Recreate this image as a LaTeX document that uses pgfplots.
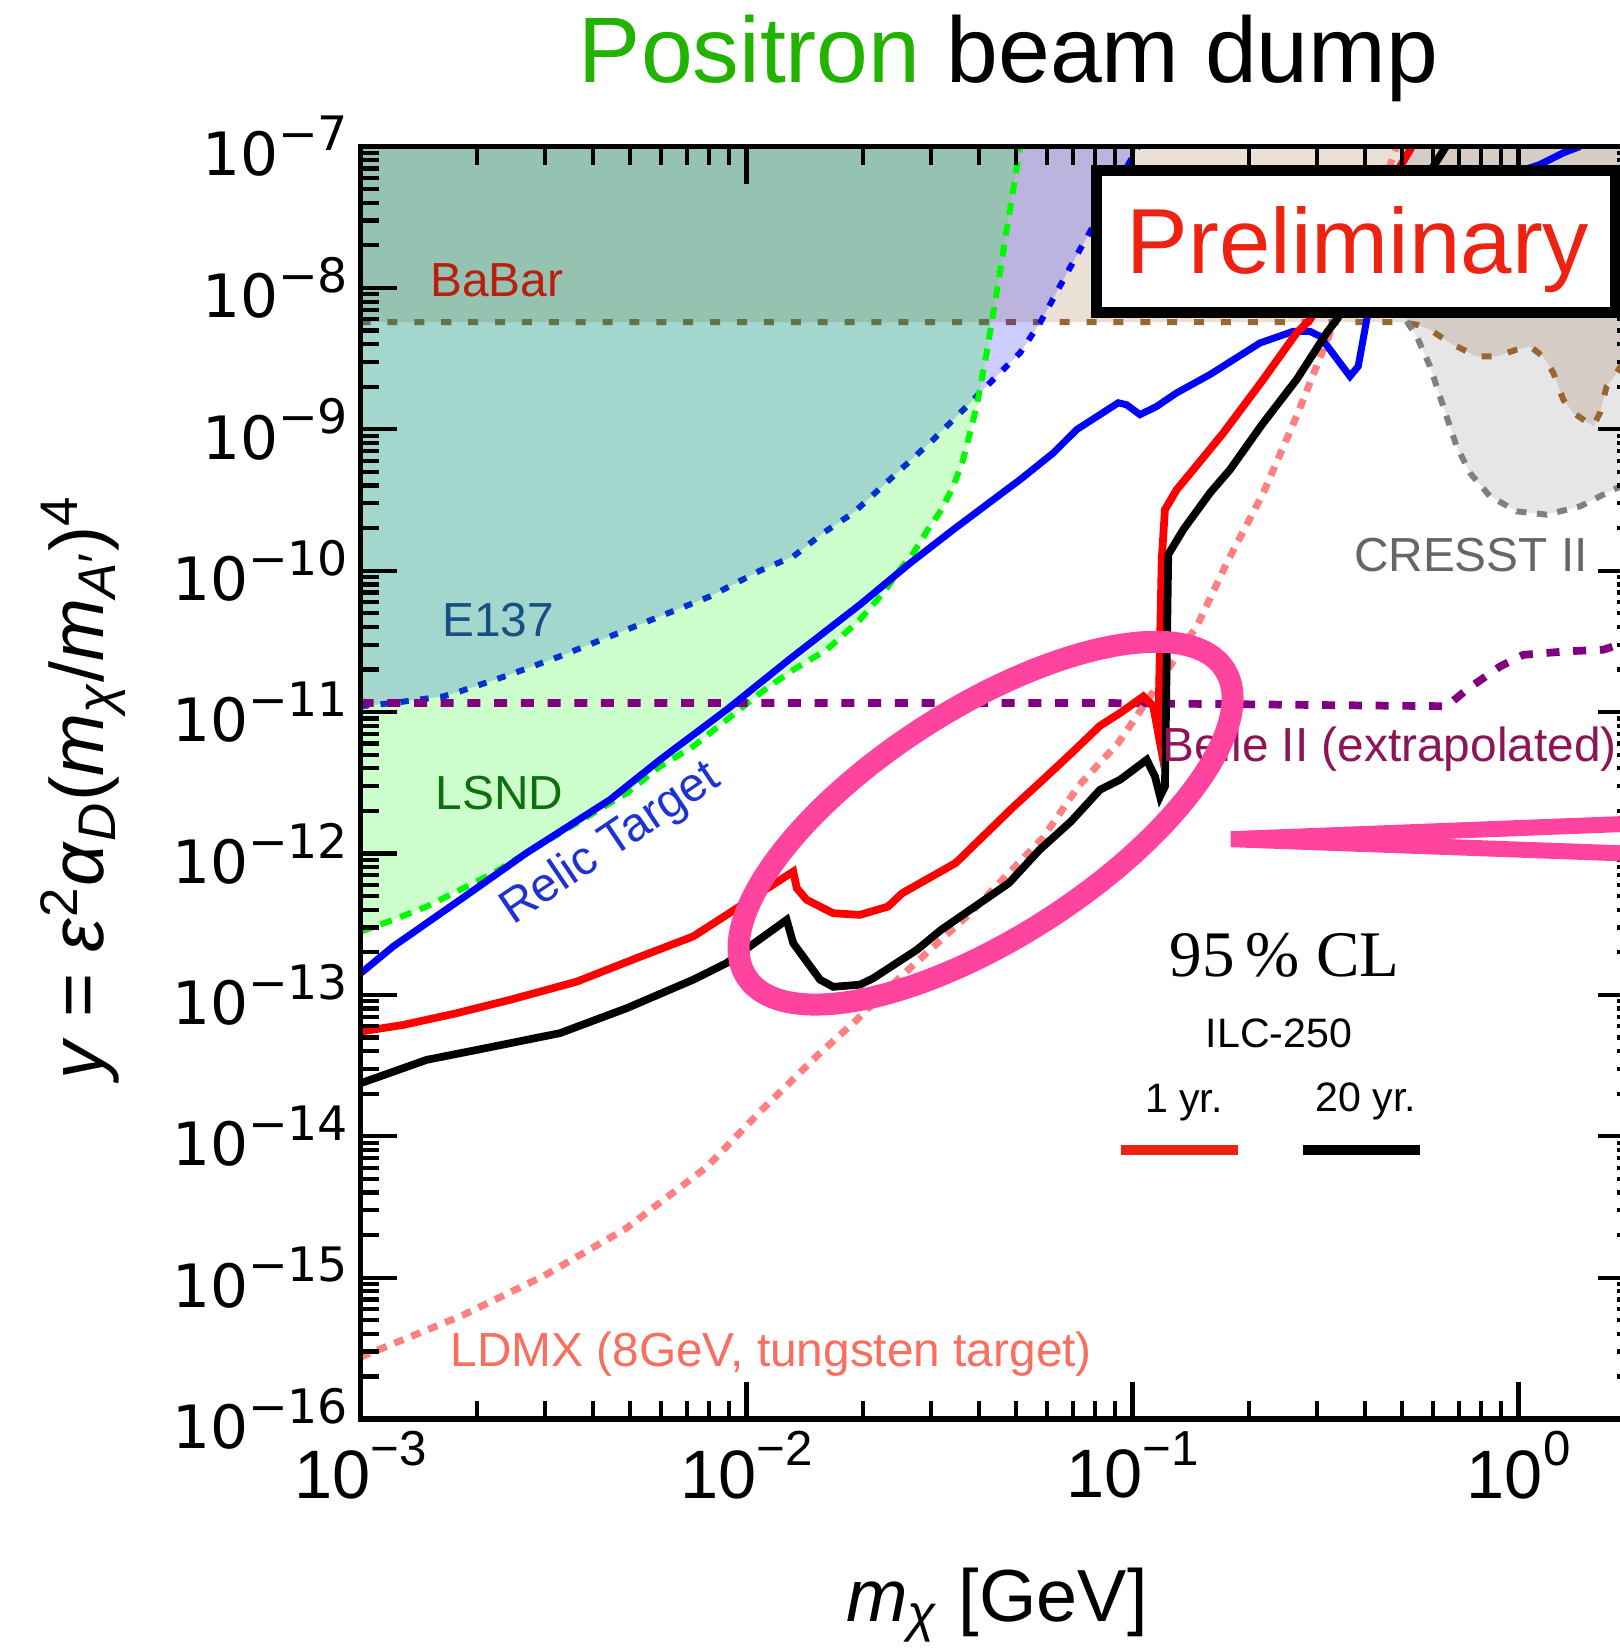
\documentclass[border=0pt]{standalone}
\usepackage{fontspec}
\setmainfont{Liberation Sans}
\newfontfamily\serifcl{Liberation Serif}
\newfontfamily\tickfont{DejaVu Sans}
\usepackage{pgfplots}
\pgfplotsset{compat=1.18}

\definecolor{babarbrown}{RGB}{153,102,51}
\definecolor{lsndgreen}{RGB}{0,250,0}
\definecolor{crgray}{RGB}{128,128,128}
\definecolor{bellepurple}{RGB}{128,0,128}
\definecolor{ldmxpink}{RGB}{255,128,128}
\definecolor{pinkc}{RGB}{255,68,160}
\definecolor{legred}{RGB}{238,34,17}
\definecolor{titlegreen}{RGB}{34,178,0}
\definecolor{babartxt}{RGB}{185,30,15}
\definecolor{e137txt}{RGB}{20,80,130}
\definecolor{lsndtxt}{RGB}{15,110,15}
\definecolor{relictxt}{RGB}{30,50,210}
\definecolor{cressttxt}{RGB}{102,102,102}
\definecolor{belletxt}{RGB}{140,20,87}
\definecolor{ldmxtxt}{RGB}{248,110,95}

% tick labels 10^n with a larger, raised exponent
\newcommand{\ytl}[1]{10\raisebox{0.42em}{\fontsize{13.5}{13.5}\selectfont #1}}
\newcommand{\xtl}[1]{10\raisebox{0.47em}{\fontsize{14}{14}\selectfont #1}}

\begin{document}
\begin{tikzpicture}
\begin{axis}[
  at={(0,0)}, anchor=south west,
  scale only axis, width=12.742cm, height=12.725cm,
  xmode=log, ymode=log,
  xmin=1e-3, xmax=2, ymin=1e-16, ymax=1e-7,
  xtick={1e-3,1e-2,1e-1,1},
  xticklabels={\xtl{−3},\xtl{−2},\xtl{−1},\xtl{0}},
  ytick={1e-16,1e-15,1e-14,1e-13,1e-12,1e-11,1e-10,1e-9,1e-8,1e-7},
  yticklabels={\ytl{−16},\ytl{−15},\ytl{−14},\ytl{−13},\ytl{−12},\ytl{−11},\ytl{−10},\ytl{−9},\ytl{−8},\ytl{−7}},
  minor xtick={0.002,0.003,0.004,0.005,0.006,0.007,0.008,0.009,0.02,0.03,0.04,0.05,0.06,0.07,0.08,0.09,0.2,0.3,0.4,0.5,0.6,0.7,0.8,0.9},
  minor ytick={2e-16,3e-16,4e-16,5e-16,6e-16,7e-16,8e-16,9e-16,
    2e-15,3e-15,4e-15,5e-15,6e-15,7e-15,8e-15,9e-15,
    2e-14,3e-14,4e-14,5e-14,6e-14,7e-14,8e-14,9e-14,
    2e-13,3e-13,4e-13,5e-13,6e-13,7e-13,8e-13,9e-13,
    2e-12,3e-12,4e-12,5e-12,6e-12,7e-12,8e-12,9e-12,
    2e-11,3e-11,4e-11,5e-11,6e-11,7e-11,8e-11,9e-11,
    2e-10,3e-10,4e-10,5e-10,6e-10,7e-10,8e-10,9e-10,
    2e-9,3e-9,4e-9,5e-9,6e-9,7e-9,8e-9,9e-9,
    2e-8,3e-8,4e-8,5e-8,6e-8,7e-8,8e-8,9e-8},
  tick align=inside, tick pos=both,
  major tick length=0.37cm, minor tick length=0.18cm,
  every tick/.style={black, line width=1.2pt},
  axis line style={line width=1.5pt},
  axis on top,
  xticklabel style={font=\fontsize{19.5}{22}\selectfont},
  yticklabel style={font=\tickfont\fontsize{17}{20}\selectfont},
]
% BaBar
\addplot[draw=none, fill=babarbrown, fill opacity=0.2] coordinates {
  (1e-3,5.73e-9) (0.4928,5.73e-9) (0.5445,5.50e-9) (0.5896,5.07e-9) (0.6642,4.08e-9)
  (0.7786,3.28e-9) (0.8775,3.28e-9) (0.9887,3.66e-9) (1.070,3.86e-9) (1.157,3.28e-9)
  (1.230,2.51e-9) (1.306,1.62e-9) (1.386,1.31e-9) (1.471,1.17e-9) (1.562,1.05e-9)
  (1.625,1.31e-9) (1.691,2.01e-9) (1.795,2.51e-9) (1.853,2.87e-9) (2,3.0e-9)
  (2,1e-7) (1e-3,1e-7)} -- cycle;
% CRESST II
\addplot[draw=none, fill=crgray, fill opacity=0.2] coordinates {
  (0.5077,1e-7) (0.513,5.80e-9) (0.5445,4.55e-9) (0.5896,2.79e-9) (0.6381,1.45e-9)
  (0.6911,7.58e-10) (0.7484,4.91e-10) (0.8431,3.36e-10) (0.9887,2.63e-10) (1.183,2.49e-10)
  (1.443,2.85e-10) (1.691,3.55e-10) (1.853,3.99e-10) (2,4.4e-10) (2,1e-7)} -- cycle;
\addplot[babarbrown, line width=1.7pt, dash pattern=on 2.85pt off 4.8pt] coordinates {
  (1e-3,5.73e-9) (0.4928,5.73e-9) (0.5445,5.50e-9) (0.5896,5.07e-9) (0.6642,4.08e-9)
  (0.7786,3.28e-9) (0.8775,3.28e-9) (0.9887,3.66e-9) (1.070,3.86e-9) (1.157,3.28e-9)
  (1.230,2.51e-9) (1.306,1.62e-9) (1.386,1.31e-9) (1.471,1.17e-9) (1.562,1.05e-9)
  (1.625,1.31e-9) (1.691,2.01e-9) (1.795,2.51e-9) (1.853,2.87e-9) (2,3.0e-9)};
\addplot[crgray, line width=1.7pt, dash pattern=on 2.85pt off 3pt] coordinates {
  (0.513,5.80e-9) (0.5445,4.55e-9) (0.5896,2.79e-9) (0.6381,1.45e-9)
  (0.6911,7.58e-10) (0.7484,4.91e-10) (0.8431,3.36e-10) (0.9887,2.63e-10) (1.183,2.49e-10)
  (1.443,2.85e-10) (1.691,3.55e-10) (1.853,3.99e-10) (2,4.4e-10)};
% E137
\addplot[draw=none, fill=blue, fill opacity=0.2] coordinates {
  (1e-3,1.10e-11) (1.215e-3,1.16e-11) (1.637e-3,1.29e-11) (1.81e-3,1.40e-11) (2.438e-3,1.84e-11)
  (3.285e-3,2.48e-11) (4.427e-3,3.43e-11) (5.967e-3,4.75e-11) (8.04e-3,6.58e-11) (1.083e-2,1.0e-10)
  (1.321e-2,1.26e-10) (1.58e-2,1.85e-10) (1.89e-2,2.56e-10) (2.399e-2,4.65e-10) (3.045e-2,8.45e-10)
  (3.716e-2,1.45e-9) (4.356e-2,2.25e-9) (5.109e-2,3.47e-9) (5.757e-2,5.66e-9) (6.485e-2,1.03e-8)
  (7.308e-2,1.87e-8) (0.1035,1e-7) (1e-3,1e-7)} -- cycle;
\addplot[blue, line width=1.7pt, dash pattern=on 2.4pt off 3.3pt] coordinates {
  (1e-3,1.10e-11) (1.215e-3,1.16e-11) (1.637e-3,1.29e-11) (1.81e-3,1.40e-11) (2.438e-3,1.84e-11)
  (3.285e-3,2.48e-11) (4.427e-3,3.43e-11) (5.967e-3,4.75e-11) (8.04e-3,6.58e-11) (1.083e-2,1.0e-10)
  (1.321e-2,1.26e-10) (1.58e-2,1.85e-10) (1.89e-2,2.56e-10) (2.399e-2,4.65e-10) (3.045e-2,8.45e-10)
  (3.716e-2,1.45e-9) (4.356e-2,2.25e-9) (5.109e-2,3.47e-9) (5.757e-2,5.66e-9) (6.485e-2,1.03e-8)
  (7.308e-2,1.87e-8) (0.1035,1e-7)};
% LSND
\addplot[draw=none, fill=green, fill opacity=0.2] coordinates {
  (1e-3,2.80e-13) (1.215e-3,3.39e-13) (1.483e-3,4.21e-13) (1.81e-3,5.53e-13) (2.207e-3,7.26e-13)
  (2.694e-3,1.01e-12) (3.285e-3,1.39e-12) (4.007e-3,1.93e-12) (4.892e-3,2.67e-12) (5.967e-3,4.12e-12)
  (7.274e-3,5.71e-12) (8.882e-3,8.82e-12) (1.083e-2,1.36e-11) (1.321e-2,1.99e-11) (1.613e-2,2.76e-11)
  (1.967e-2,4.50e-11) (2.26e-2,6.95e-11) (2.497e-2,1.02e-10) (2.704e-2,1.33e-10) (2.986e-2,2.06e-10)
  (3.201e-2,2.70e-10) (3.431e-2,3.95e-10) (3.641e-2,6.10e-10) (3.79e-2,9.42e-10) (3.945e-2,1.45e-9)
  (4.188e-2,3.47e-9) (4.356e-2,6.66e-9) (4.534e-2,1.28e-8) (4.719e-2,2.59e-8) (4.909e-2,4.96e-8)
  (5.109e-2,1e-7) (1e-3,1e-7)} -- cycle;
\addplot[lsndgreen, line width=1.7pt, dash pattern=on 3.4pt off 2.6pt] coordinates {
  (1e-3,2.80e-13) (1.215e-3,3.39e-13) (1.483e-3,4.21e-13) (1.81e-3,5.53e-13) (2.207e-3,7.26e-13)
  (2.694e-3,1.01e-12) (3.285e-3,1.39e-12) (4.007e-3,1.93e-12) (4.892e-3,2.67e-12) (5.967e-3,4.12e-12)
  (7.274e-3,5.71e-12) (8.882e-3,8.82e-12) (1.083e-2,1.36e-11) (1.321e-2,1.99e-11) (1.613e-2,2.76e-11)
  (1.967e-2,4.50e-11) (2.26e-2,6.95e-11) (2.497e-2,1.02e-10) (2.704e-2,1.33e-10) (2.986e-2,2.06e-10)
  (3.201e-2,2.70e-10) (3.431e-2,3.95e-10) (3.641e-2,6.10e-10) (3.79e-2,9.42e-10) (3.945e-2,1.45e-9)
  (4.188e-2,3.47e-9) (4.356e-2,6.66e-9) (4.534e-2,1.28e-8) (4.719e-2,2.59e-8) (4.909e-2,4.96e-8)
  (5.109e-2,1e-7)};
% Belle II (extrapolated)
\addplot[bellepurple, line width=2.2pt, dash pattern=on 3.7pt off 3.9pt] coordinates {
  (1e-3,1.16e-11) (8.232e-2,1.16e-11) (0.6512,1.10e-11) (0.7338,1.44e-11) (0.895,2.10e-11)
  (1.028,2.54e-11) (1.333,2.69e-11) (1.657,2.76e-11) (1.759,2.91e-11) (2,3.4e-11)};
% LDMX
\addplot[ldmxpink, line width=2pt, dash pattern=on 2.8pt off 2.4pt] coordinates {
  (1e-3,2.74e-16) (1.835e-3,5.40e-16) (2.987e-3,1.03e-15) (4.862e-3,2.22e-15) (7.896e-3,6.07e-15)
  (1.083e-2,1.49e-14) (1.531e-2,3.76e-14) (1.929e-2,6.65e-14) (2.459e-2,1.28e-13) (3.795e-2,3.78e-13)
  (5.858e-2,1.29e-12) (7.264e-2,3.03e-12) (9.198e-2,6.08e-12) (0.1112,1.30e-11) (0.1474,4.15e-11)
  (0.1753,1.13e-10) (0.2181,3.55e-10) (0.2661,1.24e-9) (0.3247,4.81e-9) (0.4736,8.54e-8)
  (0.4828,1e-7)};
% Relic target
\addplot[blue, line width=2pt] coordinates {
  (1e-3,1.42e-13) (1.215e-3,2.20e-13) (1.81e-3,4.70e-13) (2.694e-3,1.01e-12) (4.427e-3,2.40e-12)
  (5.967e-3,4.60e-12) (8.882e-3,1.04e-11) (1.321e-2,2.48e-11) (1.967e-2,5.75e-11) (2.651e-2,1.13e-10)
  (3.431e-2,1.95e-10) (4.356e-2,3.18e-10) (5.109e-2,4.40e-10) (6.231e-2,6.80e-10) (7.165e-2,9.95e-10)
  (9.183e-2,1.54e-9) (9.654e-2,1.49e-9) (0.1045,1.27e-9) (0.1154,1.45e-9) (0.1301,1.81e-9)
  (0.1587,2.44e-9) (0.2138,4.08e-9) (0.2608,4.93e-9) (0.2881,4.93e-9) (0.3058,4.55e-9)
  (0.3247,3.66e-9) (0.3658,2.37e-9) (0.3843,2.79e-9) (0.4042,5.97e-9) (0.4374,1.59e-8)
  (0.5553,3.30e-8) (0.7943,5.38e-8) (1.136,7.46e-8) (1.306,9.03e-8) (1.443,1e-7)};
% ILC-250, 1 yr
\addplot[red, line width=2.2pt] coordinates {
  (1e-3,5.50e-14) (1.29e-3,6.13e-14) (1.774e-3,7.42e-14) (2.438e-3,9.22e-14) (3.63e-3,1.24e-13)
  (5.192e-3,1.82e-13) (7.274e-3,2.59e-13) (8.882e-3,3.68e-13) (1.083e-2,5.24e-13) (1.321e-2,7.45e-13)
  (1.349e-2,5.69e-13) (1.431e-2,4.70e-13) (1.677e-2,3.78e-13) (1.967e-2,3.68e-13) (2.324e-2,4.21e-13)
  (2.532e-2,5.24e-13) (3.479e-2,8.55e-13) (4.924e-2,2.15e-12) (5.858e-2,3.32e-12) (6.933e-2,5.10e-12)
  (8.232e-2,8.00e-12) (9.277e-2,9.84e-12) (0.1066,1.29e-11) (0.1131,1.10e-11) (0.1165,7.11e-12)
  (0.1190,1.20e-10) (0.1213,2.70e-10) (0.1301,3.74e-10) (0.1436,5.18e-10) (0.1718,9.42e-10)
  (0.2151,2.14e-9) (0.2661,4.81e-9) (0.2881,5.97e-9) (0.5294,1e-7)};
% ILC-250, 20 yr
\addplot[black, line width=2.2pt] coordinates {
  (1e-3,2.37e-14) (1.483e-3,3.47e-14) (2.0e-3,4.08e-14) (3.285e-3,5.36e-14) (4.892e-3,8.05e-14)
  (7.274e-3,1.28e-13) (8.882e-3,1.68e-13) (1.27e-2,3.39e-13) (1.321e-2,2.32e-13) (1.55e-2,1.28e-13)
  (1.677e-2,1.14e-13) (1.967e-2,1.18e-13) (2.128e-2,1.31e-13) (2.76e-2,2.08e-13) (3.19e-2,2.88e-13)
  (4.781e-2,6.17e-13) (5.74e-2,1.06e-12) (6.933e-2,1.69e-12) (8.232e-2,2.82e-12) (9.277e-2,3.32e-12)
  (0.1088,4.60e-12) (0.1143,3.50e-12) (0.1178,2.53e-12) (0.1213,2.98e-12) (0.1237,1.30e-10)
  (0.1353,1.95e-10) (0.1587,3.55e-10) (0.1788,5.18e-10) (0.2164,1.08e-9) (0.2661,2.25e-9)
  (0.3184,4.81e-9) (0.3379,5.97e-9) (0.6484,1e-7)};
\end{axis}

% title and axis labels
\node[anchor=base, font=\fontsize{26.5}{30}\selectfont] at (6.48,13.363)
  {\textcolor{titlegreen}{Positron} beam dump};
\node[anchor=base, font=\fontsize{21}{24}\selectfont] at (6.364,-2.02)
  {\textit{m}\textsubscript{\textit{χ}} [GeV]};
\node[rotate=90, anchor=center, font=\fontsize{21.5}{24}\selectfont] at (-2.776,6.315)
  {\textit{y} = \textit{ε}\textsuperscript{2}\textit{α}\textsubscript{\textit{D}}(\textit{m}\textsubscript{\textit{χ}}/\textit{m}\textsubscript{\textit{A}′})\textsuperscript{4}};

% region labels
\begin{scope}[every node/.style={font=\fontsize{13.6}{16}\selectfont, inner sep=0pt}]
\node[anchor=base west, text=babartxt] at (0.691,11.222) {BaBar};
\node[anchor=base west, text=e137txt] at (0.811,7.823) {E137};
\node[anchor=base west, text=lsndtxt] at (0.744,6.09) {LSND};
\node[anchor=base west, text=relictxt, rotate=34] at (1.52,4.93) {Relic Target};
\node[anchor=base west, text=cressttxt] at (9.927,8.473) {CRESST II};
\node[anchor=base west, text=belletxt] at (8.011,6.573) {Belle II (extrapolated)};
\node[anchor=base west, text=ldmxtxt] at (0.894,0.523) {LDMX (8GeV, tungsten target)};
\end{scope}

% legend
\node[anchor=base, font=\serifcl\fontsize{18.5}{20}\selectfont] at (9.239,4.42) {95\,\% CL};
\node[anchor=base, font=\fontsize{11.7}{13}\selectfont] at (9.184,3.71) {ILC-250};
\node[anchor=base, font=\fontsize{11.7}{13}\selectfont] at (8.234,3.065) {1 yr.};
\node[anchor=base, font=\fontsize{11.7}{13}\selectfont] at (10.05,3.07) {20 yr.};
\draw[line width=0.107cm, legred] (7.6,2.69) -- (8.778,2.69);
\draw[line width=0.107cm, black] (9.419,2.69) -- (10.594,2.69);

% highlight
\draw[line width=0.22cm, pinkc, rotate around={32.75:(6.25,5.958)}] (6.25,5.958) ellipse [x radius=2.843cm, y radius=1.143cm];
\draw[line width=0.16cm, pinkc, line join=bevel] (8.704,5.798) -- (13.594,5.987) -- (13.594,5.621) -- cycle;

% preliminary stamp
\draw[line width=0.105cm, fill=white] (7.359,11.065) rectangle (12.544,12.485);
\node[anchor=base, text=legred, font=\fontsize{26.3}{30}\selectfont] at (9.974,11.45) {Preliminary};

\pgfresetboundingbox
\path[use as bounding box] (-3.606,-2.29) rectangle (12.594,14.19);
\end{tikzpicture}
\end{document}
